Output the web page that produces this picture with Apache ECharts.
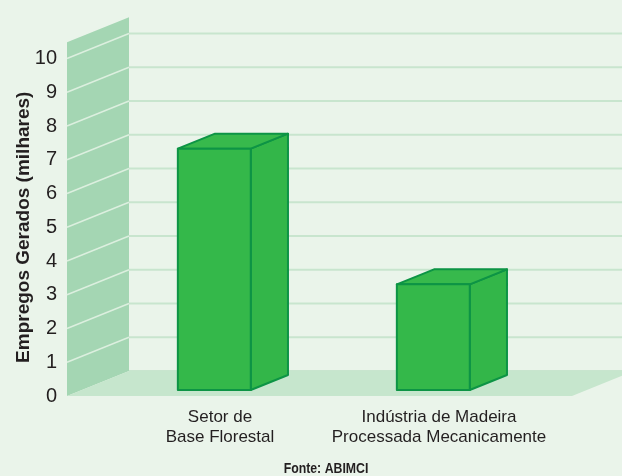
<!DOCTYPE html>
<html>
<head>
<meta charset="utf-8">
<script src="https://cdn.jsdelivr.net/npm/echarts@6/dist/echarts.min.js"></script>
<style>
  html, body { margin: 0; padding: 0; background: #eaf4ea; }
  #chart { width: 622px; height: 476px; }
</style>
</head>
<body>
<div id="chart"></div>
<script>
// ---- data ----
const categories = ['Setor de\nBase Florestal', 'Indústria de Madeira\nProcessada Mecanicamente'];
const values = [7.15, 3.13];
const yTicks = [0, 1, 2, 3, 4, 5, 6, 7, 8, 9, 10];
const yAxisTitle = 'Empregos Gerados (milhares)';
const sourceText = 'Fonte: ABIMCI';

// ---- layout / style ----
const FONT = '"Liberation Sans", Arial, sans-serif';
const DX = 62, DY = -25;          // full depth of the 3D frame (px)
const WALL_MAX = 10.48;           // top of the left wall (axis units)
const BAR_F0 = 0.24, BAR_F1 = 0.84; // bar depth span as fraction of frame depth
const BAR_W = 0.333;              // bar front width as fraction of band
const BAR_SHIFT = -0.026;         // bar offset from category centre (band fraction)
const FRONT_LEFT_PAD = 43.5, FRONT_RIGHT_PAD = 23.5;

const C = {
  bg: '#eaf4ea', wall: '#a4d6b3', wallLine: '#dcefdf', floor: '#c6e6cd',
  grid: '#c8e5ce', bar: '#34b84a', barTop: '#37b94c', barSide: '#33b649', edge: '#0d9445', text: '#231f20'
};

function renderFrame(params, api) {
  const cs = params.coordSys;
  const y0 = api.coord([0, 0])[1];
  const xL = cs.x - FRONT_LEFT_PAD;
  const xR = cs.x + cs.width + FRONT_RIGHT_PAD;
  const children = [];
  yTicks.forEach(function (v) {
    const y = api.coord([0, v])[1];
    children.push({ type: 'line', shape: { x1: xL + DX, y1: y + DY, x2: xR + DX + 20, y2: y + DY },
      style: { stroke: C.grid, lineWidth: 2 } });
  });
  const yTop = api.coord([0, WALL_MAX])[1];
  children.push({ type: 'polygon', shape: { points: [[xL, y0], [xL, yTop], [xL + DX, yTop + DY], [xL + DX, y0 + DY]] },
    style: { fill: C.wall } });
  yTicks.forEach(function (v) {
    if (v === 0) return;
    const y = api.coord([0, v])[1];
    children.push({ type: 'line', shape: { x1: xL, y1: y, x2: xL + DX, y2: y + DY },
      style: { stroke: C.wallLine, lineWidth: 1.5 } });
  });
  children.push({ type: 'polygon', shape: { points: [[xL, y0], [xR, y0], [xR + DX, y0 + DY], [xL + DX, y0 + DY]] },
    style: { fill: C.floor } });
  children.push({ type: 'rect', shape: { x: xR + DX, y: y0 + DY, width: 40, height: -DY }, style: { fill: C.floor } });
  return { type: 'group', children: children };
}

function renderBar(params, api) {
  const cat = api.value(0);
  const band = api.size([1, 0])[0];
  const top = api.coord([cat, api.value(1)]);
  const base = api.coord([cat, 0]);
  const w = band * BAR_W;
  const cx = top[0] + band * BAR_SHIFT;
  const x0 = cx - w / 2, x1 = cx + w / 2;
  const oy = DY * BAR_F0;
  const dx = DX * (BAR_F1 - BAR_F0), dy = DY * (BAR_F1 - BAR_F0);
  const yb = base[1] + oy, yt = top[1] + oy;
  const es = { stroke: C.edge, lineWidth: 2, lineJoin: 'round' };
  return {
    type: 'group',
    children: [
      { type: 'polygon', shape: { points: [[x1, yb], [x1, yt], [x1 + dx, yt + dy], [x1 + dx, yb + dy]] },
        style: Object.assign({ fill: C.barSide }, es) },
      { type: 'polygon', shape: { points: [[x0, yt], [x1, yt], [x1 + dx, yt + dy], [x0 + dx, yt + dy]] },
        style: Object.assign({ fill: C.barTop }, es) },
      { type: 'polygon', shape: { points: [[x0, yb], [x0, yt], [x1, yt], [x1, yb]] },
        style: Object.assign({ fill: C.bar }, es) }
    ]
  };
}

const chart = echarts.init(document.getElementById('chart'), null, { renderer: 'canvas' });
chart.setOption({
  backgroundColor: C.bg,
  animation: false,
  grid: { left: 110.5, right: 73.5, top: 58.5, bottom: 80, outerBoundsMode: 'none', containLabel: false },
  xAxis: {
    type: 'category', data: categories, boundaryGap: true,
    axisLine: { show: false }, axisTick: { show: false }, splitLine: { show: false },
    axisLabel: { color: C.text, fontFamily: FONT, fontSize: 17, lineHeight: 20, margin: 11, interval: 0 }
  },
  yAxis: {
    type: 'value', min: 0, max: 10, interval: 1,
    axisLine: { show: false }, axisTick: { show: false }, splitLine: { show: false },
    axisLabel: { color: C.text, fontFamily: FONT, fontSize: 20, margin: 53.5 },
    name: yAxisTitle, nameLocation: 'middle', nameRotate: 90, nameGap: 77, nameMoveOverlap: false,
    nameTextStyle: { color: C.text, fontFamily: FONT, fontSize: 19, fontWeight: 'bold' }
  },
  graphic: [{
    type: 'text', x: 326, y: 469, scaleX: 0.82,
    style: { text: sourceText, fill: C.text, font: 'bold 15px ' + FONT, align: 'center', verticalAlign: 'middle' }
  }],
  series: [
    { type: 'custom', renderItem: renderFrame, data: [[0, 0]], silent: true, z: 1 },
    { type: 'custom', renderItem: renderBar, data: values.map(function (v, i) { return [i, v]; }),
      encode: { x: 0, y: 1 }, z: 2 }
  ]
});
</script>
</body>
</html>
